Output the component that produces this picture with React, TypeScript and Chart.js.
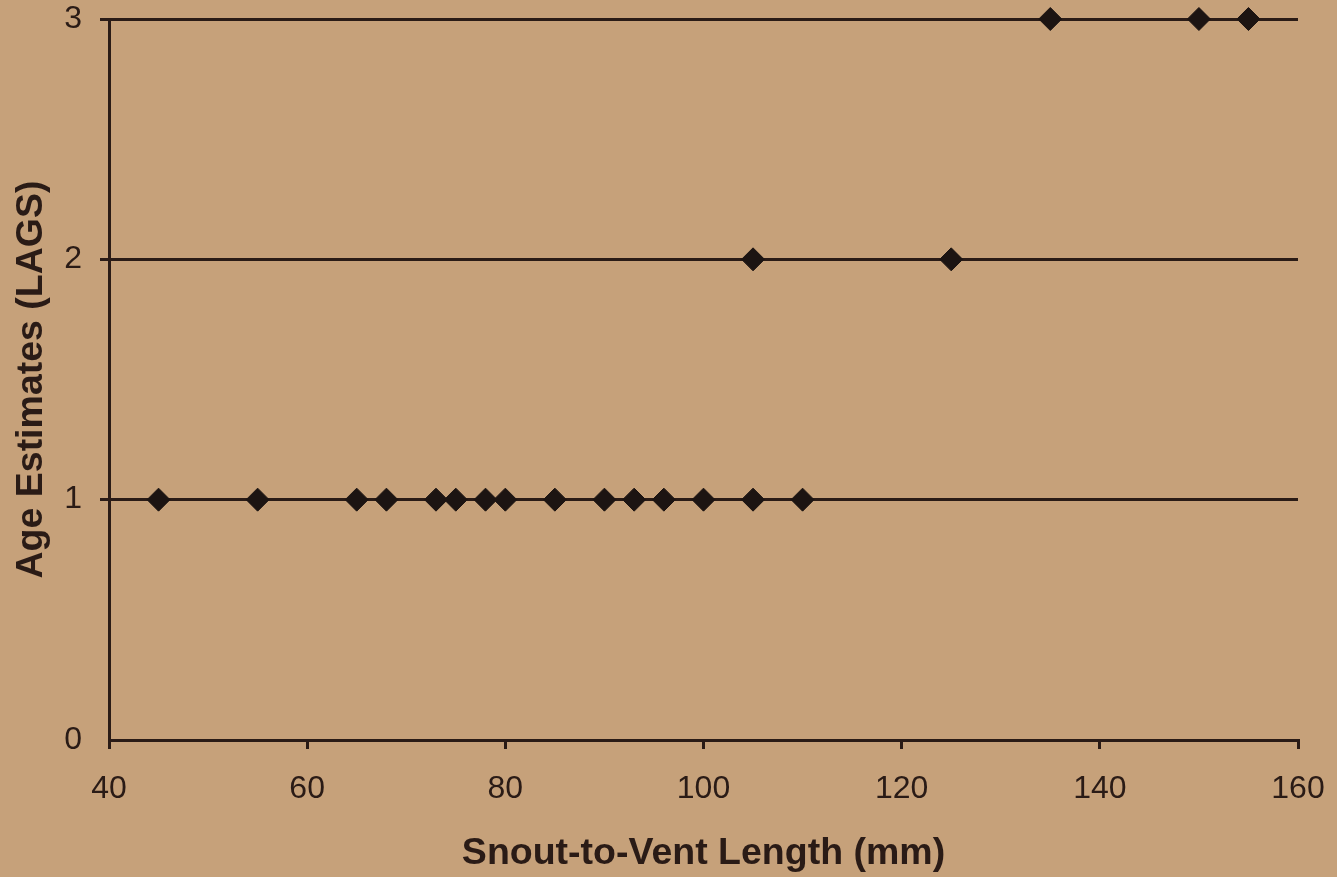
import React, { useEffect, useRef } from "react";
import { Chart, registerables } from "chart.js";

Chart.register(...registerables);

const snoutVentLength = [45, 55, 65, 68, 73, 75, 78, 80, 85, 90, 93, 96, 100, 105, 110, 105, 125, 135, 150, 155];
const ageEstimates = [1, 1, 1, 1, 1, 1, 1, 1, 1, 1, 1, 1, 1, 1, 1, 2, 2, 3, 3, 3];
const xTicks = [40, 60, 80, 100, 120, 140, 160];
const yTicks = [0, 1, 2, 3];

const INK = "#2a1b16";
const BG = "#c6a17a";
const FONT = "'Liberation Sans', Arial, sans-serif";

export default function App() {
  const ref = useRef<HTMLCanvasElement | null>(null);

  useEffect(() => {
    document.body.style.margin = "0";
    document.body.style.background = BG;
    const canvas = ref.current;
    if (!canvas) return;
    const chart = new Chart(canvas, {
      type: "scatter",
      data: {
        datasets: [
          {
            data: snoutVentLength.map((x, i) => ({ x, y: ageEstimates[i] })),
            pointStyle: "rectRot",
            radius: 11.5,
            backgroundColor: "#1c1412",
            borderColor: "#1c1412",
            borderWidth: 1,
            clip: false,
          } as any,
        ],
      },
      options: {
        animation: false,
        responsive: false,
        maintainAspectRatio: false,
        layout: { autoPadding: false, padding: { top: 19, right: 39, left: 0, bottom: 0 } },
        plugins: { legend: { display: false }, tooltip: { enabled: false } },
        scales: {
          x: {
            type: "linear",
            min: 40,
            max: 160,
            afterBuildTicks: (axis: any) => {
              axis.ticks = xTicks.map((v) => ({ value: v }));
            },
            afterFit: (axis: any) => {
              axis.height = 137;
              axis.paddingLeft = 0;
              axis.paddingRight = 0;
            },
            border: { display: true, color: INK, width: 3 },
            grid: { drawOnChartArea: false, drawTicks: true, tickLength: 9, color: INK, lineWidth: 3 },
            ticks: {
              color: INK,
              padding: 21,
              font: { family: FONT, size: 32 },
            },
            title: {
              display: true,
              text: "Snout-to-Vent Length (mm)",
              color: INK,
              padding: { top: 0, bottom: 1 },
              font: { family: FONT, size: 37.5, weight: "bold" },
            },
          },
          y: {
            type: "linear",
            min: 0,
            max: 3,
            afterBuildTicks: (axis: any) => {
              axis.ticks = yTicks.map((v) => ({ value: v }));
            },
            afterFit: (axis: any) => {
              axis.width = 109;
              axis.paddingTop = 0;
              axis.paddingBottom = 0;
            },
            border: { display: true, color: INK, width: 3 },
            grid: {
              drawOnChartArea: true,
              drawTicks: true,
              tickLength: 9,
              color: (ctx: any) => (ctx.tick && ctx.tick.value === 0 ? "rgba(0,0,0,0)" : INK),
              lineWidth: 3,
            },
            ticks: {
              color: INK,
              padding: 18,
              font: { family: FONT, size: 32 },
            },
            title: {
              display: true,
              text: "Age Estimates (LAGS)",
              color: INK,
              padding: { top: 9, bottom: 0 },
              font: { family: FONT, size: 37.5, weight: "bold" },
            },
          },
        },
      },
    });
    return () => chart.destroy();
  }, []);

  return (
    <div style={{ width: 1337, height: 877, background: BG }}>
      <canvas ref={ref} width={1337} height={877} style={{ display: "block" }} />
    </div>
  );
}
